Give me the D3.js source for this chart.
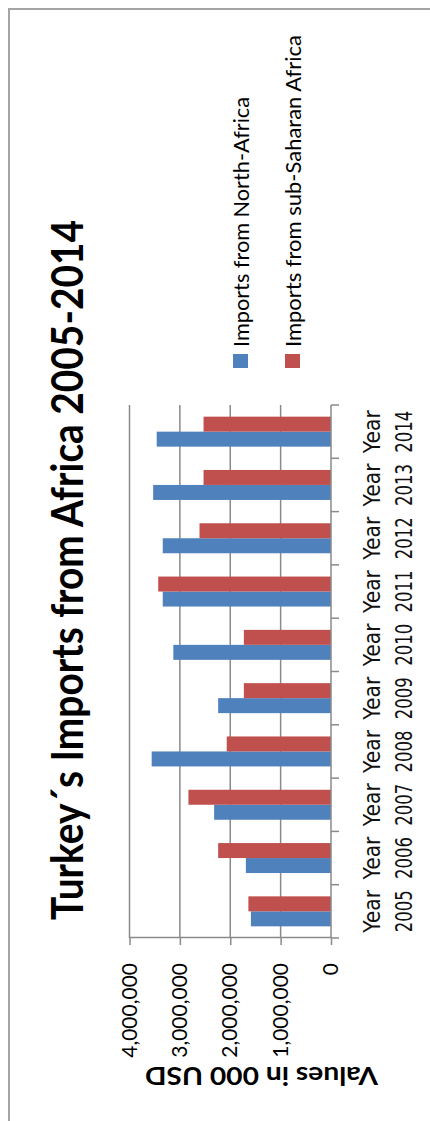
<!DOCTYPE html>
<head>
    <meta charset="utf-8">
    <title>Turkey's Imports from Africa 2005-2014</title>
    <style>
        body { margin: 0; background: #fff; }
        text { font-family: Lato, "Open Sans", sans-serif; fill: #000; }
        text.cat { font-family: "DejaVu Sans", sans-serif; fill: #111; }
    </style>
</head>
<body>

<svg width="430" height="1121"></svg>

<script src="https://d3js.org/d3.v7.min.js"></script>

<script>

    // values in 000 USD
    var years = ["2005", "2006", "2007", "2008", "2009", "2010", "2011", "2012", "2013", "2014"];
    var northAfrica = [1590000, 1690000, 2320000, 3560000, 2240000, 3130000, 3340000, 3340000, 3530000, 3460000];
    var subSaharan  = [1640000, 2240000, 2830000, 2070000, 1730000, 1730000, 3430000, 2610000, 2530000, 2530000];
    var valueTicks = [0, 1000000, 2000000, 3000000, 4000000];
    var seriesNames = ["Imports from North-Africa", "Imports from sub-Saharan Africa"];
    var seriesColors = ["#4f81bd", "#c0504d"];

    var svg = d3.select("svg"),
        width = +svg.attr("width"),
        height = +svg.attr("height");

    svg.append("rect")
        .attr("width", width)
        .attr("height", height)
        .attr("fill", "#fff");

    // The chart is laid out landscape (1121 wide, 430 high) and then
    // turned a quarter turn to the left, like the picture.
    var g = svg.append("g")
        .attr("transform", "translate(0," + height + ") rotate(-90)");

    // chart area border
    g.append("rect")
        .attr("x", -20)
        .attr("y", 9)
        .attr("width", 1132)
        .attr("height", 450)
        .attr("fill", "none")
        .attr("stroke", "#a5a5a5")
        .attr("stroke-width", 2);

    var x0 = d3.scaleBand()
        .domain(years)
        .range([183, 716])
        .paddingInner(0.4375)
        .paddingOuter(0.21875);

    var x1 = d3.scaleBand()
        .domain([0, 1])
        .range([0, x0.bandwidth()]);

    var y = d3.scaleLinear()
        .domain([0, 4000000])
        .range([331, 129.5]);

    // gridlines
    g.append("g")
        .selectAll("line")
        .data(valueTicks.slice(1))
        .enter().append("line")
            .attr("x1", x0.range()[0])
            .attr("x2", x0.range()[1])
            .attr("y1", function(d) { return y(d); })
            .attr("y2", function(d) { return y(d); })
            .attr("stroke", "#8a8a8a")
            .attr("stroke-width", 1.5);

    // bars, one group per year
    var series = [northAfrica, subSaharan];
    var groups = g.append("g")
        .selectAll("g")
        .data(years)
        .enter().append("g")
            .attr("transform", function(d) { return "translate(" + x0(d) + ",0)"; });

    groups.selectAll("rect")
        .data(function(d, i) { return series.map(function(s, k) { return { k: k, value: s[i] }; }); })
        .enter().append("rect")
            .attr("x", function(d) { return x1(d.k); })
            .attr("width", x1.bandwidth())
            .attr("y", function(d) { return y(d.value); })
            .attr("height", function(d) { return y(0) - y(d.value); })
            .attr("fill", function(d) { return seriesColors[d.k]; });

    // value axis
    var yAxis = g.append("g")
        .attr("transform", "translate(" + x0.range()[0] + ",0)")
        .call(d3.axisLeft(y)
            .tickValues(valueTicks)
            .tickFormat(d3.format(","))
            .tickSize(7)
            .tickSizeOuter(0)
            .tickPadding(18));
    yAxis.selectAll("path, line").attr("stroke", "#8a8a8a").attr("stroke-width", 1.5);
    yAxis.selectAll("text")
        .attr("fill", "#000")
        .style("font-family", "Lato, sans-serif")
        .style("font-size", "21px");

    // category axis with ticks between the years
    var catAxis = g.append("g");
    catAxis.append("line")
        .attr("x1", x0.range()[0])
        .attr("x2", x0.range()[1])
        .attr("y1", y(0))
        .attr("y2", y(0))
        .attr("stroke", "#8a8a8a")
        .attr("stroke-width", 1.5);
    catAxis.selectAll(".tick")
        .data(d3.range(years.length + 1))
        .enter().append("line")
            .attr("x1", function(i) { return x0.range()[0] + i * x0.step(); })
            .attr("x2", function(i) { return x0.range()[0] + i * x0.step(); })
            .attr("y1", y(0))
            .attr("y2", y(0) + 8)
            .attr("stroke", "#8a8a8a")
            .attr("stroke-width", 1.5);

    // two-line labels, stretched tall like the picture
    var labels = catAxis.selectAll(".lab")
        .data(years)
        .enter().append("g")
            .attr("transform", function(d) { return "translate(" + (x0(d) + x0.bandwidth() / 2) + ",0)"; });
    labels.append("text")
        .attr("class", "cat")
        .attr("transform", "translate(0,380) scale(1,1.3)")
        .attr("text-anchor", "middle")
        .attr("textLength", 43)
        .attr("lengthAdjust", "spacingAndGlyphs")
        .style("font-size", "18px")
        .text("Year");
    labels.append("text")
        .attr("class", "cat")
        .attr("transform", "translate(0,412) scale(1,1.3)")
        .attr("text-anchor", "middle")
        .attr("textLength", 42)
        .attr("lengthAdjust", "spacingAndGlyphs")
        .style("font-size", "18px")
        .text(function(d) { return d; });

    // title
    g.append("text")
        .attr("x", 551)
        .attr("y", 83)
        .attr("text-anchor", "middle")
        .attr("textLength", 700)
        .attr("lengthAdjust", "spacingAndGlyphs")
        .style("font-size", "43px")
        .style("font-weight", "bold")
        .text("Turkey´s Imports from Africa 2005-2014");

    // value axis title
    g.append("text")
        .attr("transform", "translate(54,261.5) rotate(-90)")
        .attr("text-anchor", "middle")
        .attr("textLength", 233)
        .attr("lengthAdjust", "spacingAndGlyphs")
        .style("font-size", "25px")
        .style("font-weight", "bold")
        .text("Values in 000 USD");

    // legend
    var legend = g.append("g")
        .selectAll("g")
        .data(seriesNames)
        .enter().append("g")
            .attr("transform", function(d, i) { return "translate(753," + (233 + i * 52) + ")"; });
    legend.append("rect")
        .attr("width", 14)
        .attr("height", 15)
        .attr("fill", function(d, i) { return seriesColors[i]; });
    legend.append("text")
        .attr("x", 21)
        .attr("y", 16)
        .attr("textLength", function(d, i) { return i === 0 ? 250 : 312; })
        .attr("lengthAdjust", "spacingAndGlyphs")
        .style("font-size", "21px")
        .text(function(d) { return d; });

</script>
</body>
